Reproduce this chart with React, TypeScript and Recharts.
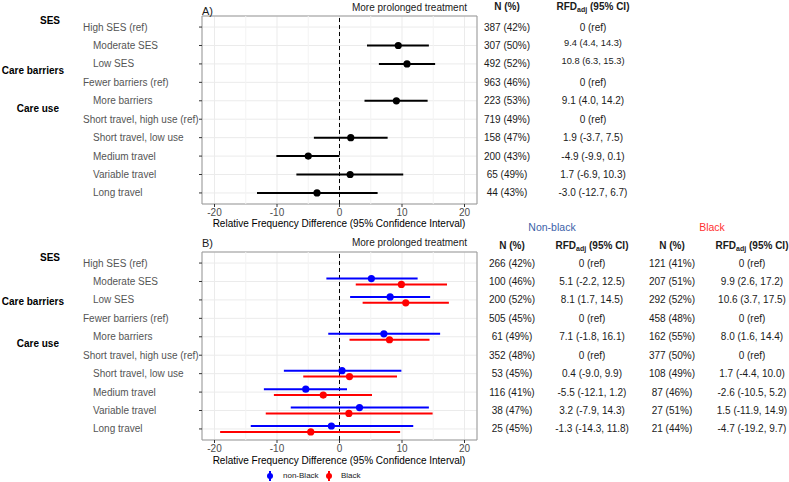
import React from 'react';
import {
  ScatterChart,
  Scatter,
  XAxis,
  YAxis,
  CartesianGrid,
  ReferenceLine,
  ReferenceArea,
  ErrorBar
} from 'recharts';

const FONT = '"Liberation Sans", Arial, sans-serif';

// rows shared by both panels
const rowLabels = [
  'High SES (ref)',
  'Moderate SES',
  'Low SES',
  'Fewer barriers (ref)',
  'More barriers',
  'Short travel, high use (ref)',
  'Short travel, low use',
  'Medium travel',
  'Variable travel',
  'Long travel'
];
const indented = [false, true, true, false, true, false, true, true, true, true];
const groupLabels = ['SES', 'Care barriers', 'Care use'];
const groupRows = [0, 2, 4];

const xTicks = [-20, -10, 0, 10, 20];
const xMinorTicks = [-15, -5, 5, 15];

// panel A: all patients
const nA = ['387 (42%)', '307 (50%)', '492 (52%)', '963 (46%)', '223 (53%)', '719 (49%)', '158 (47%)', '200 (43%)', '65 (49%)', '44 (43%)'];
const rfdA = ['0 (ref)', '9.4 (4.4, 14.3)', '10.8 (6.3, 15.3)', '0 (ref)', '9.1 (4.0, 14.2)', '0 (ref)', '1.9 (-3.7, 7.5)', '-4.9 (-9.9, 0.1)', '1.7 (-6.9, 10.3)', '-3.0 (-12.7, 6.7)'];
const estA = [null, 9.4, 10.8, null, 9.1, null, 1.8, -5.0, 1.7, -3.6];
const lowA = [null, 4.4, 6.3, null, 4.0, null, -4.1, -10.1, -6.9, -13.2];
const highA = [null, 14.3, 15.3, null, 14.1, null, 7.7, 0.0, 10.2, 6.1];

// panel B: by race
const nNonBlack = ['266 (42%)', '100 (46%)', '200 (52%)', '505 (45%)', '61 (49%)', '352 (48%)', '53 (45%)', '116 (41%)', '38 (47%)', '25 (45%)'];
const rfdNonBlack = ['0 (ref)', '5.1 (-2.2, 12.5)', '8.1 (1.7, 14.5)', '0 (ref)', '7.1 (-1.8, 16.1)', '0 (ref)', '0.4 (-9.0, 9.9)', '-5.5 (-12.1, 1.2)', '3.2 (-7.9, 14.3)', '-1.3 (-14.3, 11.8)'];
const nBlack = ['121 (41%)', '207 (51%)', '292 (52%)', '458 (48%)', '162 (55%)', '377 (50%)', '108 (49%)', '87 (46%)', '27 (51%)', '21 (44%)'];
const rfdBlack = ['0 (ref)', '9.9 (2.6, 17.2)', '10.6 (3.7, 17.5)', '0 (ref)', '8.0 (1.6, 14.4)', '0 (ref)', '1.7 (-4.4, 10.0)', '-2.6 (-10.5, 5.2)', '1.5 (-11.9, 14.9)', '-4.7 (-19.2, 9.7)'];
const estNonBlack = [null, 5.1, 8.1, null, 7.1, null, 0.4, -5.4, 3.2, -1.3];
const lowNonBlack = [null, -2.1, 1.7, null, -1.8, null, -8.9, -12.1, -7.8, -14.2];
const highNonBlack = [null, 12.5, 14.5, null, 16.1, null, 9.9, 1.2, 14.3, 11.8];
const estBlack = [null, 9.9, 10.6, null, 8.0, null, 1.6, -2.6, 1.5, -4.6];
const lowBlack = [null, 2.6, 3.7, null, 1.6, null, -5.8, -10.5, -11.8, -19.1];
const highBlack = [null, 17.2, 17.5, null, 14.4, null, 9.2, 5.2, 14.9, 9.7];

const rows = rowLabels.map((_, i) => i);
const Y_DOMAIN: [number, number] = [-0.6, rowLabels.length - 0.4];

type Pt = { x: number; y: number; err: [number, number] };

const toPoints = (est: (number | null)[], low: (number | null)[], high: (number | null)[], dodge: number): Pt[] =>
  est.flatMap((v, i) =>
    v == null ? [] : [{ x: v, y: i + dodge, err: [v - (low[i] as number), (high[i] as number) - v] as [number, number] }]
  );

interface Column {
  values: string[];
  dx: number;
}

interface PanelProps {
  height: number;
  top: number;
  series: { name: string; color: string; data: Pt[] }[];
  columns: Column[];
  groupDy: number[];
  raised?: number[];
}

// right edge of the bold group headings, measured back from the tick label x
const groupDx = [137, 133, 138];

const LeftTick = (props: any, groupDy: number[]) => {
  const { x, y, payload } = props;
  const i = payload.value as number;
  const g = groupRows.indexOf(i);
  return (
    <g>
      <text
        x={x - (indented[i] ? 104 : 114)}
        y={y}
        dy="0.35em"
        textAnchor="start"
        fill="#555"
        fontSize={10}
        fontFamily={FONT}
      >
        {rowLabels[i]}
      </text>
      {g >= 0 && (
        <text
          x={x - groupDx[g]}
          y={y + groupDy[g]}
          dy="0.35em"
          textAnchor="end"
          fill="#000"
          fontSize={10}
          fontWeight="bold"
          fontFamily={FONT}
        >
          {groupLabels[g]}
        </text>
      )}
    </g>
  );
};

const RightTick = (props: any, columns: Column[], raised: number[]) => {
  const { x, y, payload } = props;
  const i = payload.value as number;
  return (
    <g>
      {columns.map((c, k) => {
        const up = k % 2 === 1 && raised.includes(i);
        return (
          <text
            key={k}
            x={x + c.dx}
            y={y - (up ? 3 : 0)}
            dy="0.35em"
            textAnchor="middle"
            fill="#1a1a1a"
            fontSize={up ? 9.3 : 10}
            fontFamily={FONT}
          >
            {c.values[i]}
          </text>
        );
      })}
    </g>
  );
};

const ForestPanel: React.FC<PanelProps> = ({ height, top, series, columns, groupDy, raised = [] }) => (
  <ScatterChart width={789} height={height} margin={{ top, right: 0, bottom: 0, left: 0 }}>
    {xMinorTicks.map(v => (
      <ReferenceLine key={v} x={v} stroke="#f3f3f3" strokeWidth={1} />
    ))}
    <CartesianGrid stroke="#ebebeb" strokeWidth={1} />
    <XAxis
      type="number"
      dataKey="x"
      domain={[-22, 22]}
      ticks={xTicks}
      allowDataOverflow
      height={height - top - 188}
      axisLine={false}
      tickLine={{ stroke: '#333' }}
      tickSize={3}
      tickMargin={2}
      tick={{ fill: '#4d4d4d', fontSize: 10, fontFamily: FONT }}
    />
    <YAxis
      type="number"
      dataKey="y"
      domain={Y_DOMAIN}
      ticks={rows}
      interval={0}
      reversed
      allowDataOverflow
      width={202}
      axisLine={false}
      tickLine={{ stroke: '#333' }}
      tickSize={3}
      tick={(p: any) => LeftTick(p, groupDy)}
    />
    <YAxis
      yAxisId="right"
      orientation="right"
      type="number"
      dataKey="y"
      domain={Y_DOMAIN}
      ticks={rows}
      interval={0}
      reversed
      allowDataOverflow
      width={312}
      axisLine={false}
      tickLine={false}
      tickSize={0}
      tickMargin={0}
      tick={(p: any) => RightTick(p, columns, raised)}
    />
    <ReferenceLine x={0} stroke="#000" strokeDasharray="4 3" strokeWidth={1} />
    {series.map(s => (
      <Scatter
        key={s.name}
        name={s.name}
        data={s.data}
        fill={s.color}
        isAnimationActive={false}
        shape={(p: any) => <circle cx={p.cx} cy={p.cy} r={3.6} fill={s.color} />}
      >
        <ErrorBar dataKey="err" direction="x" width={0} stroke={s.color} strokeWidth={2} />
      </Scatter>
    ))}
    <ReferenceArea x1={-22} x2={22} y1={Y_DOMAIN[0]} y2={Y_DOMAIN[1]} fill="none" stroke="#999" strokeWidth={1} fillOpacity={0} />
  </ScatterChart>
);

const Label: React.FC<{ x: number; y: number; anchor?: 'start' | 'middle' | 'end'; style?: React.CSSProperties; children: React.ReactNode }> = ({ x, y, anchor = 'middle', style, children }) => (
  <div
    style={{
      position: 'absolute',
      left: x,
      top: y,
      transform: `translate(${anchor === 'start' ? '0' : anchor === 'end' ? '-100%' : '-50%'}, -50%)`,
      whiteSpace: 'nowrap',
      lineHeight: 1,
      fontSize: 10,
      fontFamily: FONT,
      color: '#1a1a1a',
      ...style
    }}
  >
    {children}
  </div>
);

const RfdHeader = () => (
  <b>
    RFD<sub style={{ fontSize: 7, verticalAlign: -2 }}>adj</sub> (95% CI)
  </b>
);

const LegendGlyph: React.FC<{ color: string }> = ({ color }) => (
  <svg width={8} height={12} style={{ display: 'block' }}>
    <line x1={4} y1={1} x2={4} y2={11} stroke={color} strokeWidth={2} />
    <circle cx={4} cy={6} r={3} fill={color} />
  </svg>
);

export default function App() {
  const seriesA = [{ name: 'All', color: '#000', data: toPoints(estA, lowA, highA, 0) }];
  const seriesB = [
    { name: 'non-Black', color: '#0000ff', data: toPoints(estNonBlack, lowNonBlack, highNonBlack, -0.16) },
    { name: 'Black', color: '#ff0000', data: toPoints(estBlack, lowBlack, highBlack, 0.16) }
  ];

  return (
    <div style={{ position: 'relative', width: 789, height: 482, background: '#fff', overflow: 'hidden' }}>
      <style>{'body{margin:0}'}</style>

      <div style={{ position: 'absolute', left: 0, top: 0 }}>
        <ForestPanel
          height={230}
          top={16}
          series={seriesA}
          columns={[
            { values: nA, dx: 30 },
            { values: rfdA, dx: 116 }
          ]}
          groupDy={[-7, 7, 8]}
          raised={[1, 2]}
        />
      </div>
      <div style={{ position: 'absolute', left: 0, top: 230 }}>
        <ForestPanel
          height={252}
          top={22}
          series={seriesB}
          columns={[
            { values: nNonBlack, dx: 35 },
            { values: rfdNonBlack, dx: 115 },
            { values: nBlack, dx: 195 },
            { values: rfdBlack, dx: 275 }
          ]}
          groupDy={[-6, 2, 7]}
        />
      </div>

      {/* panel A texts */}
      <Label x={202} y={11} anchor="start" style={{ fontSize: 11 }}>A)</Label>
      <Label x={467} y={8} anchor="end">More prolonged treatment</Label>
      <Label x={507} y={7}><b>N (%)</b></Label>
      <Label x={593} y={7}><RfdHeader /></Label>
      <Label x={339} y={224} style={{ color: '#000' }}>Relative Frequency Difference (95% Confidence Interval)</Label>

      {/* panel B texts */}
      <Label x={552} y={227} style={{ color: '#3c5fa8', fontSize: 10.5 }}>Non-black</Label>
      <Label x={712} y={227} style={{ color: '#ff3030', fontSize: 10.5 }}>Black</Label>
      <Label x={202} y={243} anchor="start" style={{ fontSize: 11 }}>B)</Label>
      <Label x={467} y={243} anchor="end">More prolonged treatment</Label>
      <Label x={512} y={246}><b>N (%)</b></Label>
      <Label x={592} y={246}><RfdHeader /></Label>
      <Label x={672} y={246}><b>N (%)</b></Label>
      <Label x={752} y={246}><RfdHeader /></Label>
      <Label x={339} y={461} style={{ color: '#000' }}>Relative Frequency Difference (95% Confidence Interval)</Label>

      {/* legend */}
      <div style={{ position: 'absolute', left: 266, top: 470 }}><LegendGlyph color="#0000ff" /></div>
      <Label x={283} y={476} anchor="start" style={{ fontSize: 8 }}>non-Black</Label>
      <div style={{ position: 'absolute', left: 325, top: 470 }}><LegendGlyph color="#ff0000" /></div>
      <Label x={341} y={476} anchor="start" style={{ fontSize: 8 }}>Black</Label>
    </div>
  );
}
